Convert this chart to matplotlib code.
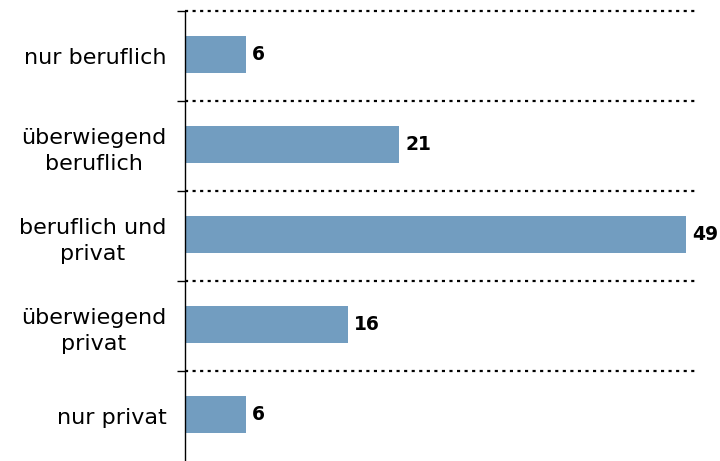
import matplotlib
matplotlib.use("Agg")
import matplotlib.pyplot as plt
import numpy as np

categories = ["nur beruflich", "überwiegend\nberuflich", "beruflich und\nprivat",
              "überwiegend\nprivat", "nur privat"]
values = [6, 21, 49, 16, 6]

fig = plt.figure(figsize=(7.2, 4.61), dpi=100)
ax = fig.add_axes([0.2564, 0.0, 0.968 - 0.2564, 1 - 11.5 / 461])

n = len(categories)
pos = np.arange(n)
ax.barh(pos - 0.02, values, height=0.41, color="#729DC0", zorder=2)

for p, v in zip(pos, values):
    ax.text(v + 0.6, p - 0.02, str(v), va="center", ha="left", fontsize=13.5,
            fontweight="bold", color="black")

ax.set_xlim(0, 50.1)
ax.set_ylim(n - 0.5, -0.5)

bounds = np.arange(-0.5, n, 1.0)
for b in bounds[:-1]:
    ax.axhline(b, color="black", linestyle=(0, (1.4, 2.0)), linewidth=1.6,
               zorder=1, clip_on=False)

ax.set_yticks(bounds[:-1])
ax.set_yticklabels([])
ax.tick_params(axis="y", which="major", length=6, width=1, direction="out")
ax.set_yticks(pos, minor=True)
ax.set_yticklabels(categories, minor=True, fontsize=16, linespacing=1.35,
                   multialignment="center")
ax.tick_params(axis="y", which="minor", length=0, pad=13)

ax.set_xticks([])
for s in ["top", "right", "bottom"]:
    ax.spines[s].set_visible(False)
ax.spines["left"].set_linewidth(1)

fig.savefig("out.png", dpi=100)
